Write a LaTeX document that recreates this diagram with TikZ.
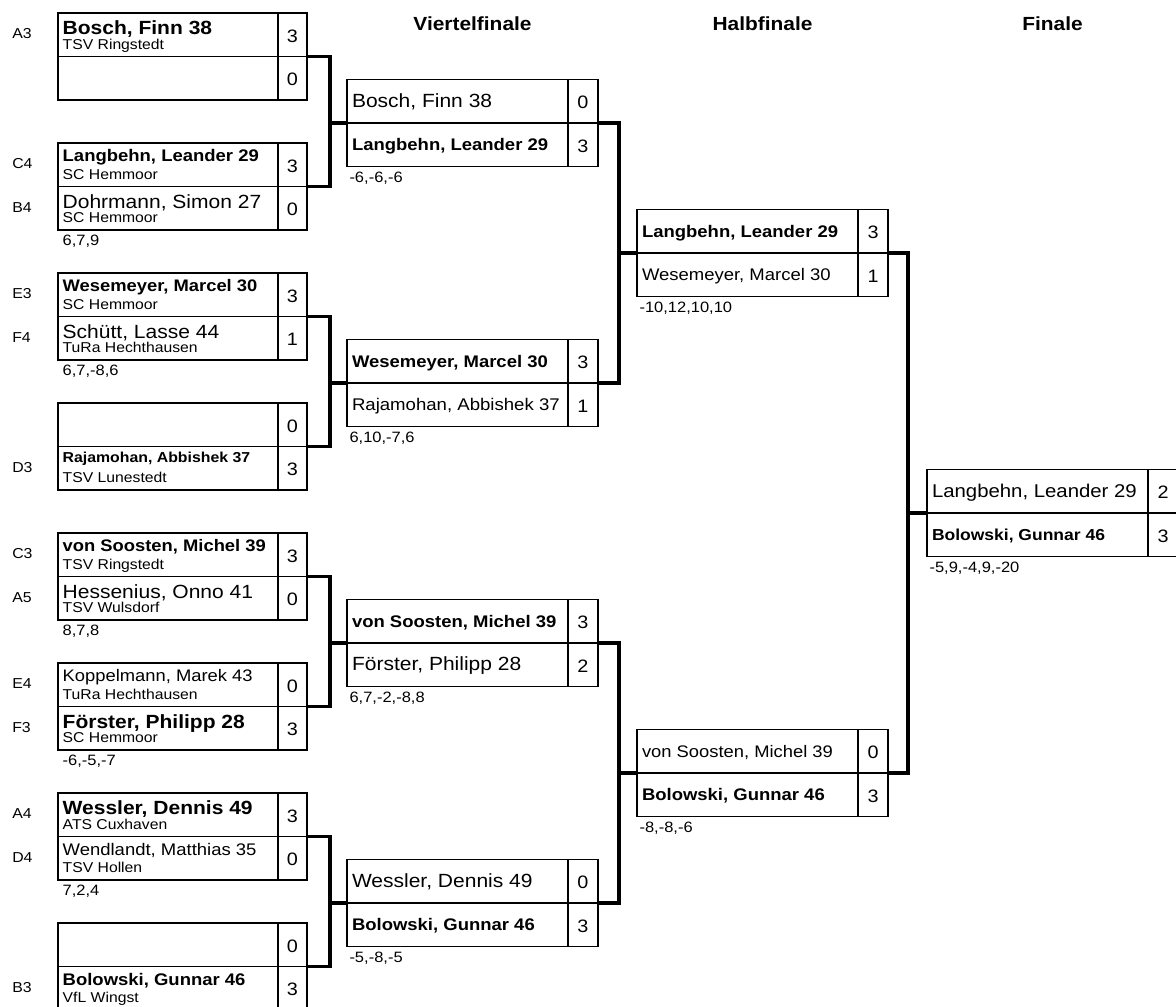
\documentclass[tikz,border=0pt]{standalone}
\usepackage{fontspec}
\setmainfont{Liberation Sans}[FakeStretch=1.1]
\newcommand\fs[1]{\fontsize{#1}{#1}\selectfont}
\tikzset{
  mbox/.style={draw, line width=1.5pt, rectangle, inner sep=0pt, outer sep=0pt, minimum height=87pt},
  rbox/.style={mbox, minimum width=249pt},
  kbox/.style={mbox, minimum width=251pt},
  sepline/.style={line width=1.5pt},
  conn/.style={line width=3.3pt, line join=miter},
  txt/.style={inner sep=0pt, outer sep=0pt, anchor=base west},
  club/.style={txt, font=\fs{14.3}},
  score/.style={inner sep=0pt, outer sep=0pt, anchor=center, font=\fs{18}},
  lab/.style={inner sep=0pt, outer sep=0pt, anchor=west, font=\fs{14.4}},
  sets/.style={txt, font=\fs{15}},
  rtitle/.style={inner sep=0pt, anchor=base, font=\fs{19}\bfseries},
}
% first-round row: id, row top, size, weight, name, club
\newcommand\rname[6]{%
  \node[txt,font={\fs{#3}#4}] (#1n) at (62.7,{#2+1.1*#3+0.5}) {#5};
  \node[club] (#1c) at (62.7,#2+36) {#6};}
\newcommand\rscore[3]{\node[score] (#1s) at (292.5,#2+23) {#3};}
\newcommand\rlab[3]{\node[lab] (#1l) at (12.3,#2+20.7) {#3};}
% later-round row: id, box left, row top, size, weight, name, score
\newcommand\krow[7]{%
  \node[txt,font={\fs{#4}#5}] (#1n) at (#2+5,#3+27.7) {#6};
  \node[score] (#1s) at (#2+236,#3+23) {#7};}
\begin{document}
\begin{tikzpicture}[x=1pt,y=-1pt]
\useasboundingbox (0,0) rectangle (1176,1007);
\clip (0,0) rectangle (1176,1007);

% titles
\node[rtitle] (tq) at (472.5,30) {Viertelfinale};
\node[rtitle] (ts) at (762.5,30) {Halbfinale};
\node[rtitle] (tf) at (1052.5,30) {Finale};

% boxes
\node[rbox] (r1) at (182.5,56.5) {};
\node[rbox] (r2) at (182.5,186.5) {};
\node[rbox] (r3) at (182.5,316.5) {};
\node[rbox] (r4) at (182.5,446.5) {};
\node[rbox] (r5) at (182.5,576.5) {};
\node[rbox] (r6) at (182.5,706.5) {};
\node[rbox] (r7) at (182.5,836.5) {};
\node[rbox] (r8) at (182.5,966.5) {};
\node[kbox] (q1) at (472.5,123) {};
\node[kbox] (q2) at (472.5,383) {};
\node[kbox] (q3) at (472.5,643) {};
\node[kbox] (q4) at (472.5,903) {};
\node[kbox] (s1) at (762.5,253) {};
\node[kbox] (s2) at (762.5,773) {};
\node[kbox] (f) at (1052.5,513) {};
\foreach \b in {r1,r2,r3,r4,r5,r6,r7,r8}{
  \draw[sepline] (\b.west) -- (\b.east);
  \draw[sepline] ([xshift=-29pt]\b.north east) -- ([xshift=-29pt]\b.south east);}
\foreach \b in {q1,q2,q3,q4,s1,s2,f}{
  \draw[sepline] (\b.west) -- (\b.east);
  \draw[sepline] ([xshift=-30pt]\b.north east) -- ([xshift=-30pt]\b.south east);}

% connectors
\draw[conn] (r1.east) -- ++(23,0) coordinate (j1) |- (r2.east);
\draw[conn] (q1.west) -- (q1.west -| j1);
\draw[conn] (r3.east) -- ++(23,0) coordinate (j2) |- (r4.east);
\draw[conn] (q2.west) -- (q2.west -| j2);
\draw[conn] (r5.east) -- ++(23,0) coordinate (j3) |- (r6.east);
\draw[conn] (q3.west) -- (q3.west -| j3);
\draw[conn] (r7.east) -- ++(23,0) coordinate (j4) |- (r8.east);
\draw[conn] (q4.west) -- (q4.west -| j4);
\draw[conn] (q1.east) -- ++(21,0) coordinate (j5) |- (q2.east);
\draw[conn] (s1.west) -- (s1.west -| j5);
\draw[conn] (q3.east) -- ++(21,0) coordinate (j6) |- (q4.east);
\draw[conn] (s2.west) -- (s2.west -| j6);
\draw[conn] (s1.east) -- ++(20,0) coordinate (j7) |- (s2.east);
\draw[conn] (f.west) -- (f.west -| j7);

% first round
\rname{a1}{13}{19.1}{\bfseries}{Bosch, Finn 38}{TSV Ringstedt}
\rscore{a1}{13}{3}\rlab{a1}{13}{A3}
\rscore{a2}{56.5}{0}

\rname{b1}{143}{16.8}{\bfseries}{Langbehn, Leander 29}{SC Hemmoor}
\rscore{b1}{143}{3}\rlab{b1}{143}{C4}
\rname{b2}{186.5}{19.1}{}{Dohrmann, Simon 27}{SC Hemmoor}
\rscore{b2}{186.5}{0}\rlab{b2}{186.5}{B4}
\node[sets] (bs) at (62.7,245.7) {6,7,9};

\rname{c1}{273}{16.7}{\bfseries}{Wesemeyer, Marcel 30}{SC Hemmoor}
\rscore{c1}{273}{3}\rlab{c1}{273}{E3}
\rname{c2}{316.5}{19.1}{}{Schütt, Lasse 44}{TuRa Hechthausen}
\rscore{c2}{316.5}{1}\rlab{c2}{316.5}{F4}
\node[sets] (cs) at (62.7,375.7) {6,7,-8,6};

\rscore{d1}{403}{0}
\rname{d2}{446.5}{14.4}{\bfseries}{Rajamohan, Abbishek 37}{TSV Lunestedt}
\rscore{d2}{446.5}{3}\rlab{d2}{446.5}{D3}

\rname{e1}{533}{16.7}{\bfseries}{von Soosten, Michel 39}{TSV Ringstedt}
\rscore{e1}{533}{3}\rlab{e1}{533}{C3}
\rname{e2}{576.5}{19.1}{}{Hessenius, Onno 41}{TSV Wulsdorf}
\rscore{e2}{576.5}{0}\rlab{e2}{576.5}{A5}
\node[sets] (es) at (62.7,635.7) {8,7,8};

\rname{g1}{663}{16.7}{}{Koppelmann, Marek 43}{TuRa Hechthausen}
\rscore{g1}{663}{0}\rlab{g1}{663}{E4}
\rname{g2}{706.5}{19.1}{\bfseries}{Förster, Philipp 28}{SC Hemmoor}
\rscore{g2}{706.5}{3}\rlab{g2}{706.5}{F3}
\node[sets] (gs) at (62.7,765.7) {-6,-5,-7};

\rname{h1}{793}{19.1}{\bfseries}{Wessler, Dennis 49}{ATS Cuxhaven}
\rscore{h1}{793}{3}\rlab{h1}{793}{A4}
\rname{h2}{836.5}{16.8}{}{Wendlandt, Matthias 35}{TSV Hollen}
\rscore{h2}{836.5}{0}\rlab{h2}{836.5}{D4}
\node[sets] (hs) at (62.7,895.7) {7,2,4};

\rscore{k1}{923}{0}
\rname{k2}{966.5}{16.8}{\bfseries}{Bolowski, Gunnar 46}{VfL Wingst}
\rscore{k2}{966.5}{3}\rlab{k2}{966.5}{B3}

% quarterfinals
\krow{qa}{347}{79.5}{19.1}{}{Bosch, Finn 38}{0}
\krow{qb}{347}{123}{16.8}{\bfseries}{Langbehn, Leander 29}{3}
\node[sets] (q1s) at (349.5,182.7) {-6,-6,-6};
\krow{qc}{347}{339.5}{16.8}{\bfseries}{Wesemeyer, Marcel 30}{3}
\krow{qd}{347}{383}{16.9}{}{Rajamohan, Abbishek 37}{1}
\node[sets] (q2s) at (349.5,442.7) {6,10,-7,6};
\krow{qe}{347}{599.5}{16.8}{\bfseries}{von Soosten, Michel 39}{3}
\krow{qf}{347}{643}{19.1}{}{Förster, Philipp 28}{2}
\node[sets] (q3s) at (349.5,702.7) {6,7,-2,-8,8};
\krow{qg}{347}{859.5}{19.1}{}{Wessler, Dennis 49}{0}
\krow{qh}{347}{903}{16.8}{\bfseries}{Bolowski, Gunnar 46}{3}
\node[sets] (q4s) at (349.5,962.7) {-5,-8,-5};

% semifinals
\krow{sa}{637}{209.5}{16.8}{\bfseries}{Langbehn, Leander 29}{3}
\krow{sb}{637}{253}{16.8}{}{Wesemeyer, Marcel 30}{1}
\node[sets] (s1s) at (639.5,312.7) {-10,12,10,10};
\krow{sc}{637}{729.5}{16.7}{}{von Soosten, Michel 39}{0}
\krow{sd}{637}{773}{16.8}{\bfseries}{Bolowski, Gunnar 46}{3}
\node[sets] (s2s) at (639.5,832.7) {-8,-8,-6};

% final
\krow{fa}{927}{469.5}{18.5}{}{Langbehn, Leander 29}{2}
\krow{fb}{927}{513}{15.9}{\bfseries}{Bolowski, Gunnar 46}{3}
\node[sets] (fs) at (929.5,572.7) {-5,9,-4,9,-20};
\end{tikzpicture}
\end{document}
